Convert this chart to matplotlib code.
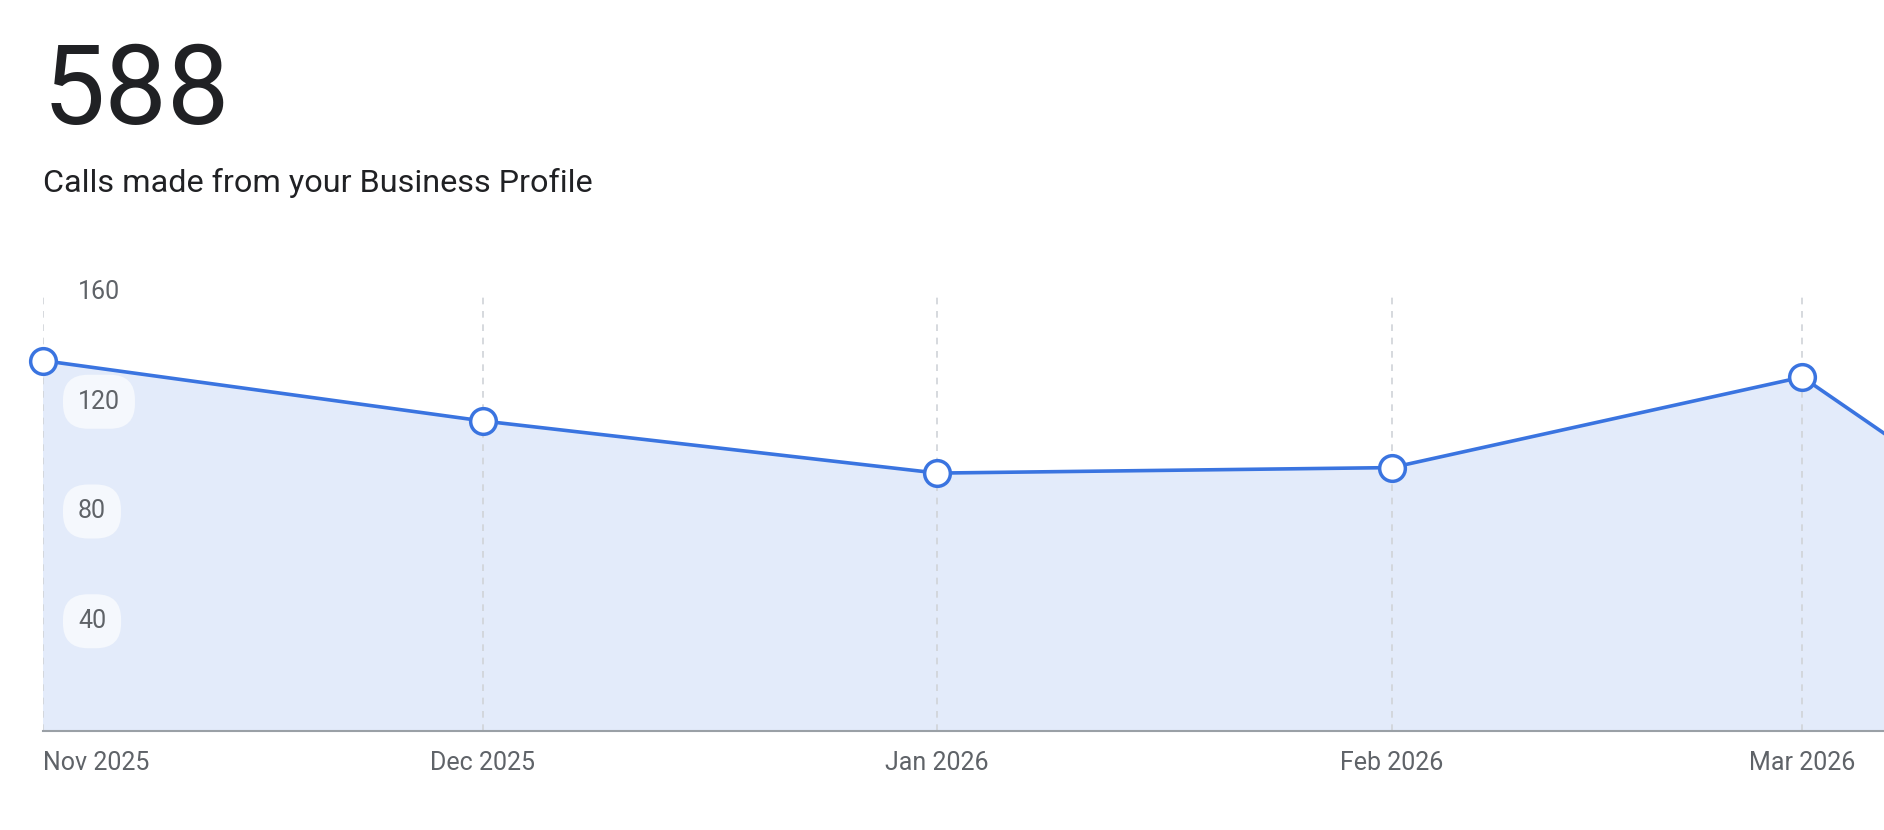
import matplotlib
matplotlib.use("Agg")
import matplotlib.pyplot as plt
import matplotlib.dates as mdates
import numpy as np
import datetime as dt

months = ["2025-11-01", "2025-12-01", "2026-01-01", "2026-02-01", "2026-03-01", "2026-04-01"]
values = [135, 113, 94, 96, 129, 15]
month_labels = ["Nov 2025", "Dec 2025", "Jan 2026", "Feb 2026", "Mar 2026"]
ytick_vals = [40, 80, 120, 160]
total = "588"
subtitle = "Calls made from your Business Profile"

plt.rcParams['font.family'] = ['Roboto', 'DejaVu Sans']
dates = [dt.datetime.fromisoformat(m) for m in months]
x = mdates.date2num(dates)

fig = plt.figure(figsize=(18.84, 8.30), dpi=100)
ax = fig.add_axes([43/1884, 1-731/830, 1-43/1884, (731-292)/830])
blue = "#3a74e0"
ax.fill_between(x, values, 0, color="#e3ebfa", lw=0, zorder=1)
ax.plot(x, values, color=blue, lw=2.6, zorder=3, clip_on=True)
ax.plot(x, values, 'o', ms=18.5, mfc="white", mec=blue, mew=2.5, zorder=4, clip_on=False)

x0 = x[0]
xright = x0 + 1532/12.2
ax.set_xlim(x0, xright)
ax.set_ylim(0, 160)
for xv in x[:5]:
    ax.axvline(xv, ymin=0, ymax=1, color="#d0d3d8", lw=1.2, ls=(0, (4, 4)), zorder=2)
for s in ["top", "right", "left"]:
    ax.spines[s].set_visible(False)
ax.spines["bottom"].set_color("#9aa0a6")
ax.spines["bottom"].set_linewidth(1.5)
ax.spines["bottom"].set_zorder(5)
ax.set_yticks([])
ax.set_xticks([])

for xv, lab, i in zip(x[:5], month_labels, range(5)):
    ax.text(xv, -0.072, lab, transform=ax.get_xaxis_transform(),
            ha="left" if i == 0 else "center", va="center",
            fontsize=18, color="#5f6368")

for v in ytick_vals:
    kw = {}
    if v != 160:
        kw["bbox"] = dict(boxstyle="round,pad=0.6,rounding_size=1.0", fc="#f5f8fd", ec="none")
    ax.text(0.019, v, str(v), transform=ax.get_yaxis_transform(),
            ha="left", va="center", fontsize=18, color="#5f6368", zorder=6, **kw)

fig.text(43/1884, 1-124/830, total, fontsize=80, color="#202124", ha="left", va="baseline")
fig.text(43/1884, 1-192/830, subtitle, fontsize=23.3, color="#202124", ha="left", va="baseline")

fig.savefig("out.png", dpi=100)
